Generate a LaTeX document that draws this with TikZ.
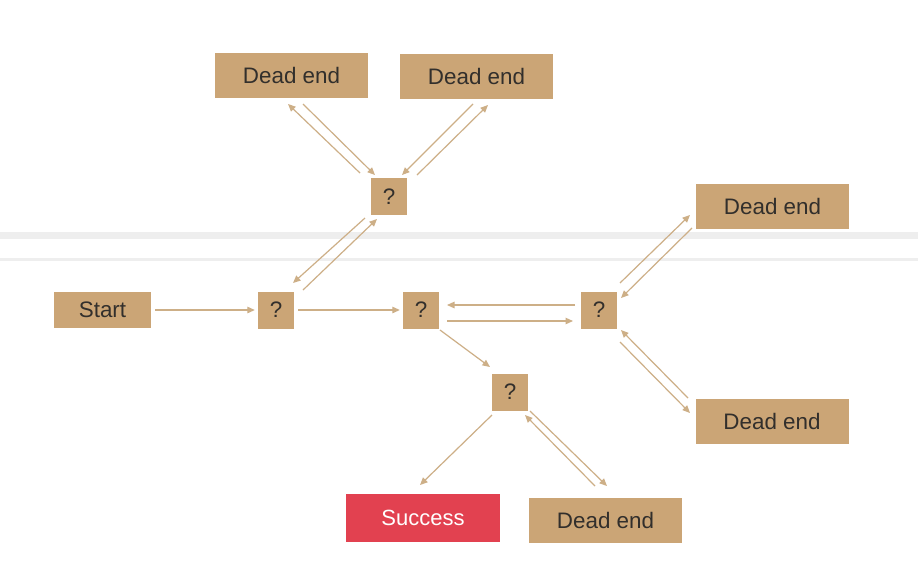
\documentclass[tikz,border=0pt]{standalone}
\usepackage{fontspec}
\setmainfont{Liberation Sans}
\usetikzlibrary{calc,arrows.meta}
\definecolor{boxfill}{RGB}{203,165,118}
\definecolor{arrcol}{RGB}{205,175,135}
\definecolor{txtcol}{RGB}{50,47,44}
\definecolor{succred}{RGB}{226,65,80}
\definecolor{band}{RGB}{238,238,238}
\tikzset{
  box/.style={fill=boxfill, text=txtcol, inner sep=0pt, font=\fontsize{22.4}{25}\selectfont},
  dead/.style={box, minimum width=153pt, minimum height=45pt},
  qbox/.style={box, minimum width=36pt, minimum height=37pt},
  arr/.style={draw=arrcol, line width=1.2pt, -{Triangle[length=7.5pt,width=6.5pt]}},
}
\begin{document}
\begin{tikzpicture}[x=1pt,y=-1pt]
\useasboundingbox[fill=white] (0,0) rectangle (918,582);
\fill[band] (0,232) rectangle (918,239);
\fill[band] (0,258) rectangle (918,261);

\node[dead] (deTL) at (291.5,75.5) {Dead end};
\node[dead] (deTR) at (476.5,76) {Dead end};
\node[qbox] (qT) at (389,196.5) {?};
\node[box, minimum width=97pt, minimum height=36pt] (start) at (102.5,310) {Start};
\node[qbox] (q1) at (276,310) {?};
\node[qbox] (q2) at (421,310) {?};
\node[qbox] (q3) at (599,310) {?};
\node[dead] (deR1) at (772.5,206.5) {Dead end};
\node[dead] (deR2) at (772,421.5) {Dead end};
\node[qbox] (q4) at (510,392) {?};
\node[fill=succred, text=white, inner sep=0pt, minimum width=154pt, minimum height=48pt, font=\fontsize{22}{25}\selectfont] (succ) at (423,518) {Success};
\node[dead] (deB) at (605.5,520) {Dead end};

% top
\draw[arr] ($(qT)+(-29,-23.5)$) -- ($(deTL)+(-3.5,28.5)$);
\draw[arr] ($(deTL)+(11.5,28.5)$) -- ($(qT)+(-14,-21.5)$);
\draw[arr] ($(qT)+(28,-21.5)$) -- ($(deTR)+(11.5,29)$);
\draw[arr] ($(deTR)+(-3.5,28)$) -- ($(qT)+(13,-21.5)$);
\draw[arr] ($(qT)+(-24,21.5)$) -- ($(q1)+(17,-27)$);
\draw[arr] ($(q1)+(27,-20)$) -- ($(qT)+(-12,22.5)$);
% main row
\draw[arr] ($(start.east)+(4,0)$) -- ($(q1.west)+(-3,0)$);
\draw[arr] ($(q1.east)+(4,0)$) -- ($(q2.west)+(-3,0)$);
\draw[arr] ($(q3)+(-24,-5)$) -- ($(q2)+(26,-5)$);
\draw[arr] ($(q2)+(26,11)$) -- ($(q3)+(-26,11)$);
\draw[arr] ($(q2)+(19,20)$) -- ($(q4)+(-20,-25)$);
% right
\draw[arr] ($(q3)+(21,-27)$) -- ($(deR1)+(-82.5,8.5)$);
\draw[arr] ($(deR1)+(-80.5,21.5)$) -- ($(q3)+(22,-12)$);
\draw[arr] ($(deR2)+(-84,-23.5)$) -- ($(q3)+(22,20)$);
\draw[arr] ($(q3)+(21,32)$) -- ($(deR2)+(-82,-8.5)$);
% bottom
\draw[arr] ($(q4)+(-18,23)$) -- ($(succ)+(-3,-33)$);
\draw[arr] ($(deB)+(-10.5,-34)$) -- ($(q4)+(15,23)$);
\draw[arr] ($(q4)+(20,19)$) -- ($(deB)+(1.5,-34)$);
\end{tikzpicture}
\end{document}
